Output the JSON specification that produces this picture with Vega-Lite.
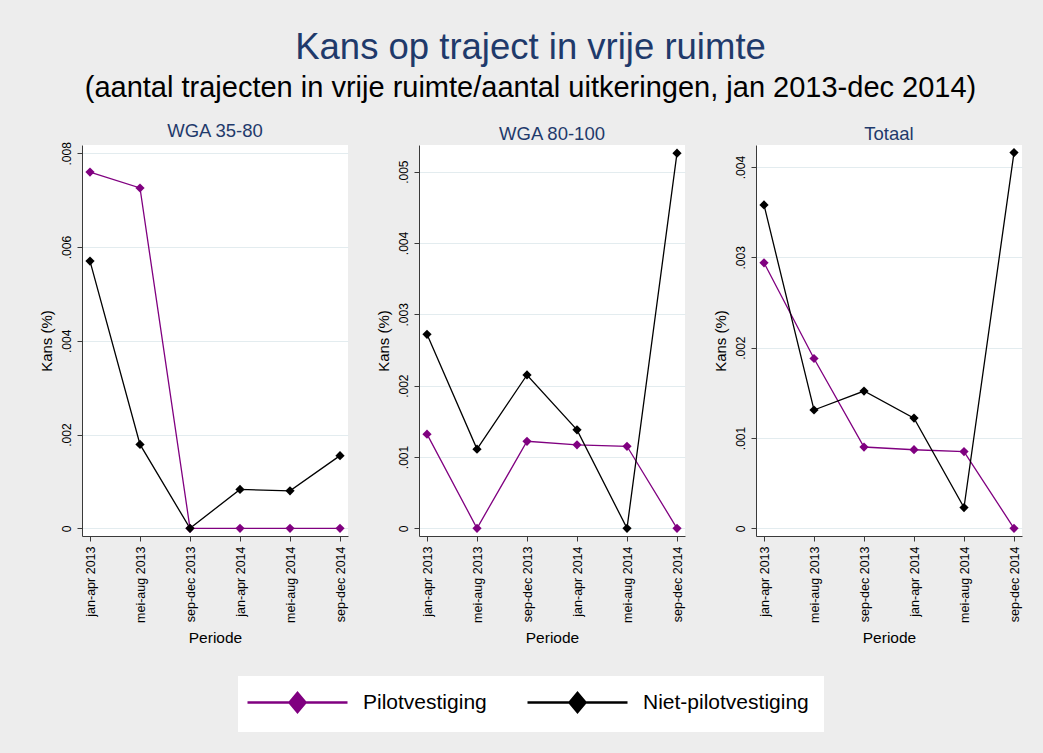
{
  "$schema": "https://vega.github.io/schema/vega-lite/v6.json",
  "padding": {"left": 39, "top": 29, "right": 22, "bottom": 22},
  "title": {
    "text": "Kans op traject in vrije ruimte",
    "subtitle": "(aantal trajecten in vrije ruimte/aantal uitkeringen, jan 2013-dec 2014)",
    "fontSize": 36.5,
    "subtitleFontSize": 29,
    "color": "#1f3a6b",
    "subtitleColor": "#000000",
    "font": "Liberation Sans",
    "subtitleFont": "Liberation Sans",
    "fontWeight": "normal",
    "anchor": "middle",
    "subtitlePadding": 8,
    "offset": 18.5
  },
  "data": {
    "values": [
      {"p": "WGA 35-80", "g": "Pilotvestiging", "t": "jan-apr 2013", "v": 0.0076},
      {"p": "WGA 35-80", "g": "Pilotvestiging", "t": "mei-aug 2013", "v": 0.00726},
      {"p": "WGA 35-80", "g": "Pilotvestiging", "t": "sep-dec 2013", "v": 0},
      {"p": "WGA 35-80", "g": "Pilotvestiging", "t": "jan-apr 2014", "v": 0},
      {"p": "WGA 35-80", "g": "Pilotvestiging", "t": "mei-aug 2014", "v": 0},
      {"p": "WGA 35-80", "g": "Pilotvestiging", "t": "sep-dec 2014", "v": 0},
      {"p": "WGA 35-80", "g": "Niet-pilotvestiging", "t": "jan-apr 2013", "v": 0.0057},
      {"p": "WGA 35-80", "g": "Niet-pilotvestiging", "t": "mei-aug 2013", "v": 0.00179},
      {"p": "WGA 35-80", "g": "Niet-pilotvestiging", "t": "sep-dec 2013", "v": 0},
      {"p": "WGA 35-80", "g": "Niet-pilotvestiging", "t": "jan-apr 2014", "v": 0.00083},
      {"p": "WGA 35-80", "g": "Niet-pilotvestiging", "t": "mei-aug 2014", "v": 0.0008},
      {"p": "WGA 35-80", "g": "Niet-pilotvestiging", "t": "sep-dec 2014", "v": 0.00155},
      {"p": "WGA 80-100", "g": "Pilotvestiging", "t": "jan-apr 2013", "v": 0.00132},
      {"p": "WGA 80-100", "g": "Pilotvestiging", "t": "mei-aug 2013", "v": 0},
      {"p": "WGA 80-100", "g": "Pilotvestiging", "t": "sep-dec 2013", "v": 0.00122},
      {"p": "WGA 80-100", "g": "Pilotvestiging", "t": "jan-apr 2014", "v": 0.00117},
      {"p": "WGA 80-100", "g": "Pilotvestiging", "t": "mei-aug 2014", "v": 0.00115},
      {"p": "WGA 80-100", "g": "Pilotvestiging", "t": "sep-dec 2014", "v": 0},
      {"p": "WGA 80-100", "g": "Niet-pilotvestiging", "t": "jan-apr 2013", "v": 0.00272},
      {"p": "WGA 80-100", "g": "Niet-pilotvestiging", "t": "mei-aug 2013", "v": 0.00111},
      {"p": "WGA 80-100", "g": "Niet-pilotvestiging", "t": "sep-dec 2013", "v": 0.00215},
      {"p": "WGA 80-100", "g": "Niet-pilotvestiging", "t": "jan-apr 2014", "v": 0.00138},
      {"p": "WGA 80-100", "g": "Niet-pilotvestiging", "t": "mei-aug 2014", "v": 0},
      {"p": "WGA 80-100", "g": "Niet-pilotvestiging", "t": "sep-dec 2014", "v": 0.00526},
      {"p": "Totaal", "g": "Pilotvestiging", "t": "jan-apr 2013", "v": 0.00294},
      {"p": "Totaal", "g": "Pilotvestiging", "t": "mei-aug 2013", "v": 0.00188},
      {"p": "Totaal", "g": "Pilotvestiging", "t": "sep-dec 2013", "v": 0.0009},
      {"p": "Totaal", "g": "Pilotvestiging", "t": "jan-apr 2014", "v": 0.00087},
      {"p": "Totaal", "g": "Pilotvestiging", "t": "mei-aug 2014", "v": 0.00085},
      {"p": "Totaal", "g": "Pilotvestiging", "t": "sep-dec 2014", "v": 0},
      {"p": "Totaal", "g": "Niet-pilotvestiging", "t": "jan-apr 2013", "v": 0.00358},
      {"p": "Totaal", "g": "Niet-pilotvestiging", "t": "mei-aug 2013", "v": 0.00131},
      {"p": "Totaal", "g": "Niet-pilotvestiging", "t": "sep-dec 2013", "v": 0.00152},
      {"p": "Totaal", "g": "Niet-pilotvestiging", "t": "jan-apr 2014", "v": 0.00122},
      {"p": "Totaal", "g": "Niet-pilotvestiging", "t": "mei-aug 2014", "v": 0.00023},
      {"p": "Totaal", "g": "Niet-pilotvestiging", "t": "sep-dec 2014", "v": 0.00416}
    ]
  },
  "hconcat": [
    {
      "title": "WGA 35-80",
      "width": 266,
      "height": 391,
      "transform": [{"filter": "datum.p == 'WGA 35-80'"}],
      "mark": {"type": "line", "strokeWidth": 1.3, "point": {"shape": "diamond", "size": 85, "filled": true}},
      "encoding": {
        "x": {"field": "t", "type": "ordinal", "sort": ["jan-apr 2013", "mei-aug 2013", "sep-dec 2013", "jan-apr 2014", "mei-aug 2014", "sep-dec 2014"], "scale": {"type": "point", "padding": 0.16}, "title": "Periode"},
        "y": {"field": "v", "type": "quantitative", "scale": {"domain": [-0.000164, 0.008177], "nice": false, "zero": false}, "axis": {"values": [0, 0.002, 0.004, 0.006, 0.008], "labelExpr": "datum.value == 0 ? '0' : replace(format(datum.value, '.3f'), '0.', '.')"}, "title": "Kans (%)"},
        "color": {"field": "g", "type": "nominal", "scale": {"domain": ["Pilotvestiging", "Niet-pilotvestiging"], "range": ["#800080", "#000000"]},
          "legend": {"title": null, "orient": "none", "legendX": 156, "legendY": 531, "direction": "horizontal", "symbolType": "M-1.7,0H8.3M2.5,0L3.3,-0.95L4.1,0L3.3,0.95Z", "symbolSize": 400, "symbolStrokeWidth": 2.5, "labelFontSize": 21, "labelFont": "Liberation Sans", "labelColor": "#000000", "labelOffset": 87, "labelLimit": 400, "columnPadding": 35, "padding": 15, "fillColor": "white", "strokeColor": null,
            "encode": {"symbols": {"update": {"fill": {"scale": "color", "field": "value"}, "stroke": {"scale": "color", "field": "value"}, "opacity": {"value": 1}}}}}}
      }
    },
    {
      "title": "WGA 80-100",
      "width": 266,
      "height": 391,
      "transform": [{"filter": "datum.p == 'WGA 80-100'"}],
      "mark": {"type": "line", "strokeWidth": 1.3, "point": {"shape": "diamond", "size": 85, "filled": true}},
      "encoding": {
        "x": {"field": "t", "type": "ordinal", "sort": ["jan-apr 2013", "mei-aug 2013", "sep-dec 2013", "jan-apr 2014", "mei-aug 2014", "sep-dec 2014"], "scale": {"type": "point", "padding": 0.16}, "title": "Periode"},
        "y": {"field": "v", "type": "quantitative", "scale": {"domain": [-0.000108, 0.005374], "nice": false, "zero": false}, "axis": {"values": [0, 0.001, 0.002, 0.003, 0.004, 0.005], "labelExpr": "datum.value == 0 ? '0' : replace(format(datum.value, '.3f'), '0.', '.')"}, "title": "Kans (%)"},
        "color": {"field": "g", "type": "nominal", "scale": {"domain": ["Pilotvestiging", "Niet-pilotvestiging"], "range": ["#800080", "#000000"]},
          "legend": {"title": null, "orient": "none", "legendX": 156, "legendY": 531, "direction": "horizontal", "symbolType": "M-1.7,0H8.3M2.5,0L3.3,-0.95L4.1,0L3.3,0.95Z", "symbolSize": 400, "symbolStrokeWidth": 2.5, "labelFontSize": 21, "labelFont": "Liberation Sans", "labelColor": "#000000", "labelOffset": 87, "labelLimit": 400, "columnPadding": 35, "padding": 15, "fillColor": "white", "strokeColor": null,
            "encode": {"symbols": {"update": {"fill": {"scale": "color", "field": "value"}, "stroke": {"scale": "color", "field": "value"}, "opacity": {"value": 1}}}}}}
      }
    },
    {
      "title": "Totaal",
      "width": 266,
      "height": 391,
      "transform": [{"filter": "datum.p == 'Totaal'"}],
      "mark": {"type": "line", "strokeWidth": 1.3, "point": {"shape": "diamond", "size": 85, "filled": true}},
      "encoding": {
        "x": {"field": "t", "type": "ordinal", "sort": ["jan-apr 2013", "mei-aug 2013", "sep-dec 2013", "jan-apr 2014", "mei-aug 2014", "sep-dec 2014"], "scale": {"type": "point", "padding": 0.16}, "title": "Periode"},
        "y": {"field": "v", "type": "quantitative", "scale": {"domain": [-0.0000852, 0.004244], "nice": false, "zero": false}, "axis": {"values": [0, 0.001, 0.002, 0.003, 0.004], "labelExpr": "datum.value == 0 ? '0' : replace(format(datum.value, '.3f'), '0.', '.')"}, "title": "Kans (%)"},
        "color": {"field": "g", "type": "nominal", "scale": {"domain": ["Pilotvestiging", "Niet-pilotvestiging"], "range": ["#800080", "#000000"]},
          "legend": {"title": null, "orient": "none", "legendX": 156, "legendY": 531, "direction": "horizontal", "symbolType": "M-1.7,0H8.3M2.5,0L3.3,-0.95L4.1,0L3.3,0.95Z", "symbolSize": 400, "symbolStrokeWidth": 2.5, "labelFontSize": 21, "labelFont": "Liberation Sans", "labelColor": "#000000", "labelOffset": 87, "labelLimit": 400, "columnPadding": 35, "padding": 15, "fillColor": "white", "strokeColor": null,
            "encode": {"symbols": {"update": {"fill": {"scale": "color", "field": "value"}, "stroke": {"scale": "color", "field": "value"}, "opacity": {"value": 1}}}}}}
      }
    }
  ],
  "spacing": 28,
  "config": {
    "background": "#ededed",
    "font": "Liberation Sans",
    "view": {"fill": "white", "stroke": null},
    "title": {"fontSize": 18.5, "color": "#1f3a6b", "fontWeight": "normal", "offset": 1.5, "font": "Liberation Sans"},
    "axis": {"domainColor": "#3a3a3a", "tickColor": "#3a3a3a", "labelColor": "#000000", "titleColor": "#000000", "labelFont": "Liberation Sans", "titleFont": "Liberation Sans", "titleFontWeight": "normal", "tickSize": 5, "domainWidth": 1, "tickWidth": 1},
    "axisX": {"labelAngle": -90, "labelFontSize": 12.5, "titleFontSize": 15.5, "grid": false, "labelPadding": 5, "titlePadding": 8},
    "axisY": {"labelAngle": -90, "labelFontSize": 12, "titleFontSize": 15, "gridColor": "#e3ecef", "gridWidth": 1.2, "labelPadding": 4, "titlePadding": 6}
  }
}
